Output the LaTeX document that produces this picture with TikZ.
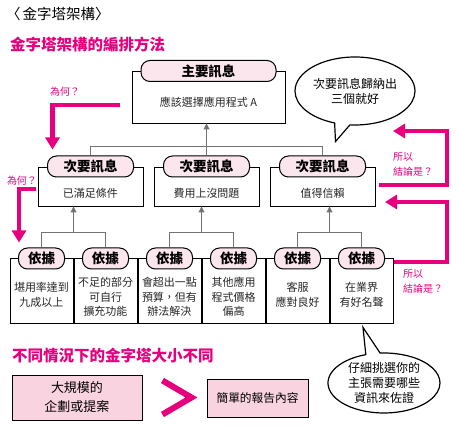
\documentclass[tikz,border=0pt]{standalone}
\usepackage{fontspec}
\setmainfont{Noto Sans CJK TC}
\usetikzlibrary{arrows.meta, calc, shapes.callouts}
\definecolor{AccentMagenta}{RGB}{230,0,126}
\definecolor{PillPink}{RGB}{252,230,238}
\definecolor{BoxPink}{RGB}{249,211,224}
\definecolor{LinkGray}{RGB}{115,115,115}

\begin{document}
\begin{tikzpicture}[x=1pt, y=-1pt,
    every node/.style={inner sep=0pt},
    frame/.style={draw, line width=0.9pt},
    pill/.style={draw, line width=1pt, fill=PillPink, rounded corners=9pt, minimum height=21pt,
      font=\fontsize{13.5}{14}\selectfont\bfseries},
    body/.style={align=center, text=black!85, font=\fontsize{11}{14.5}\selectfont},
    link/.style={LinkGray, line width=0.9pt},
    linkup/.style={link, -{Triangle[length=6pt, width=6pt]}},
    hint/.style={AccentMagenta, line width=4.5pt, -{Triangle[length=12pt, width=14pt]}},
    hinttext/.style={AccentMagenta, align=left, font=\fontsize{10}{15.5}\selectfont},
    heading/.style={AccentMagenta, anchor=west, font=\fontsize{15.5}{16}\selectfont\bfseries},
    bubble/.style={draw, line width=1.2pt, ellipse callout, align=center, font=\fontsize{12}{15}\selectfont},
    casebox/.style={draw, line width=0.9pt, fill=BoxPink, align=center}]
  \useasboundingbox (0,0) rectangle (459,427);

  % titles
  \node[anchor=west, font=\fontsize{14.5}{15}\selectfont] (pageTitle) at (6,14) {〈\hspace{2pt}金字塔架構〉};
  \node[heading] (mainTitle) at (10,45) {金字塔架構的編排方法};

  % main message
  \node[frame, minimum width=153pt, minimum height=52pt] (mainBox) at (208.5,97) {};
  \node[pill, minimum width=135pt] (mainPill) at (208.5,71) {主要訊息};
  \node[body] (mainTxt) at (208.5,102) {應該選擇應用程式 A};

  % secondary messages
  \node[frame, minimum width=105pt, minimum height=39pt] (midBoxA) at (90.5,186.5) {};
  \node[pill, minimum width=86pt] (midPillA) at (90.5,166.5) {次要訊息};
  \node[body] (midTxtA) at (90.5,193) {已滿足條件};
  \node[frame, minimum width=105pt, minimum height=39pt] (midBoxB) at (206.5,186.5) {};
  \node[pill, minimum width=86pt] (midPillB) at (206.5,166.5) {次要訊息};
  \node[body] (midTxtB) at (206.5,193) {費用上沒問題};
  \node[frame, minimum width=105pt, minimum height=39pt] (midBoxC) at (322.5,186.5) {};
  \node[pill, minimum width=86pt] (midPillC) at (322.5,166.5) {次要訊息};
  \node[body] (midTxtC) at (322.5,193) {值得信賴};

  % evidence
  \node[frame, minimum width=63pt, minimum height=65pt] (botBoxA) at (41.5,290.5) {};
  \node[pill, minimum width=46pt] (botPillA) at (41.5,258.5) {依據};
  \node[body] (botTxtA) at (41.5,295) {堪用率達到\\九成以上};
  \node[frame, minimum width=63pt, minimum height=65pt] (botBoxB) at (105.5,290.5) {};
  \node[pill, minimum width=46pt] (botPillB) at (105.5,258.5) {依據};
  \node[body] (botTxtB) at (105.5,297) {不足的部分\\可自行\\擴充功能};
  \node[frame, minimum width=63pt, minimum height=65pt] (botBoxC) at (169.5,290.5) {};
  \node[pill, minimum width=46pt] (botPillC) at (169.5,258.5) {依據};
  \node[body] (botTxtC) at (169.5,297) {會超出一點\\預算，但有\\辦法解決};
  \node[frame, minimum width=63pt, minimum height=65pt] (botBoxD) at (233.5,290.5) {};
  \node[pill, minimum width=46pt] (botPillD) at (233.5,258.5) {依據};
  \node[body] (botTxtD) at (233.5,297) {其他應用\\程式價格\\偏高};
  \node[frame, minimum width=63pt, minimum height=65pt] (botBoxE) at (297.5,290.5) {};
  \node[pill, minimum width=46pt] (botPillE) at (297.5,258.5) {依據};
  \node[body] (botTxtE) at (297.5,295) {客服\\應對良好};
  \node[frame, minimum width=63pt, minimum height=65pt] (botBoxF) at (361.5,290.5) {};
  \node[pill, minimum width=46pt] (botPillF) at (361.5,258.5) {依據};
  \node[body] (botTxtF) at (361.5,295) {在業界\\有好名聲};

  % gray links
  \draw[link] (midPillA.north) -- ++(0,-9) -| (midPillC.north);
  \draw[linkup] (midPillB.north) -- (midPillB.north |- mainBox.south);
  \draw[link] (botPillA.north) -- ++(0,-15) -| (botPillB.north);
  \draw[link] (botPillC.north) -- ++(0,-15) -| (botPillD.north);
  \draw[link] (botPillE.north) -- ++(0,-15) -| (botPillF.north);
  \coordinate (joinA) at ($(botPillA.north)!0.5!(botPillB.north)+(0,-15)$);
  \coordinate (joinB) at ($(botPillC.north)!0.5!(botPillD.north)+(0,-15)$);
  \coordinate (joinC) at ($(botPillE.north)!0.5!(botPillF.north)+(0,-15)$);
  \draw[linkup] (joinA) -- (joinA |- midBoxA.south);
  \draw[linkup] (joinB) -- (joinB |- midBoxB.south);
  \draw[linkup] (joinC) -- (joinC |- midBoxC.south);

  % magenta hints
  \coordinate (whyStartA) at ($(mainBox.west)+(-12,8)$);
  \coordinate (whyEndA) at ($(midPillA.north)+(-38,-6)$);
  \draw[hint] (whyStartA) -| (whyEndA);
  \node[hinttext] (whyTxtA) at (65,92) {為何？};
  \coordinate (whyStartB) at ($(midBoxA.west)+(-2,2.5)$);
  \coordinate (whyEndB) at ($(botPillA.north)+(-22.5,-5)$);
  \draw[hint] (whyStartB) -| (whyEndB);
  \node[hinttext] (whyTxtB) at (22,181) {為何？};
  \coordinate (soStartA) at ($(midBoxC.east)+(4,-1.5)$);
  \coordinate (soTurnA) at (447,131);
  \coordinate (soEndA) at (393,131);
  \draw[hint] (soStartA) -| (soTurnA) -- (soEndA);
  \node[hinttext, anchor=west] (soTxtA) at (393,164.5) {所以\\結論是？};
  \coordinate (soStartB) at ($(botBoxF.east)+(1,-28.5)$);
  \coordinate (soTurnB) at (447,202);
  \coordinate (soEndB) at (385,202);
  \draw[hint] (soStartB) -| (soTurnB) -- (soEndB);
  \node[hinttext, anchor=west] (soTxtB) at (403,281.5) {所以\\結論是？};

  % speech bubbles
  \node[bubble, minimum width=120pt, minimum height=68pt,
    callout absolute pointer={($(midPillC.north)+(13,-14)$)}] (bubbleTop) at (355,91) {次要訊息歸納出\\三個就好};
  \node[bubble, minimum width=112pt, minimum height=60pt,
    callout absolute pointer={($(botBoxF.south)+(1.5,4)$)}] (bubbleBot) at (384,383) {仔細挑選你的\\主張需要哪些\\資訊來佐證};

  % size comparison
  \node[heading] (sizeTitle) at (12,356) {不同情況下的金字塔大小不同};
  \node[casebox, minimum width=130pt, minimum height=45pt, font=\fontsize{13}{19}\selectfont] (bigCase) at (77,397.5) {大規模的\\企劃或提案};
  \node[casebox, minimum width=101pt, minimum height=38pt, font=\fontsize{11.7}{14}\selectfont] (smallCase) at (257.5,398) {簡單的報告內容};
  \draw[AccentMagenta, line width=6pt] ($(bigCase.east)+(20,-17)$) -- ($(bigCase.east)+(49,0)$) -- ($(bigCase.east)+(20,17)$);
\end{tikzpicture}
\end{document}
